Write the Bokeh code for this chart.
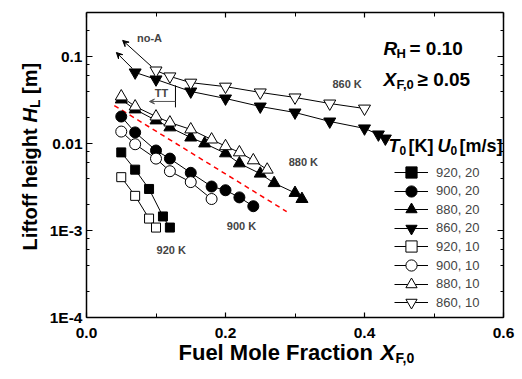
import math
from bokeh.plotting import figure
from bokeh.models import (Range1d, LinearAxis, LogAxis, FixedTicker,
                          CustomJSTickFormatter, Label, Arrow, VeeHead, Legend, LegendItem)
from bokeh.embed import file_html
from bokeh.resources import INLINE

FONT = "Liberation Sans"

# ---------------- data ----------------
x_920_20 = [0.05, 0.07, 0.09, 0.11, 0.12]
h_920_20 = [0.0079, 0.0050, 0.0030, 0.00145, 0.00108]
x_900_20 = [0.05, 0.07, 0.10, 0.12, 0.15, 0.18, 0.20, 0.22, 0.24]
h_900_20 = [0.0204, 0.0134, 0.0083, 0.0067, 0.0046, 0.0032, 0.0029, 0.0024, 0.0019]
x_880_20 = [0.05, 0.07, 0.10, 0.12, 0.15, 0.17, 0.20, 0.22, 0.25, 0.27, 0.30, 0.31]
h_880_20 = [0.032, 0.0246, 0.0184, 0.0153, 0.0117, 0.0100, 0.0077, 0.0059, 0.0045, 0.0035, 0.0027, 0.0023]
x_860_20 = [0.07, 0.10, 0.15, 0.20, 0.25, 0.30, 0.35, 0.40, 0.42, 0.43]
h_860_20 = [0.0655, 0.0545, 0.0396, 0.0329, 0.0266, 0.0227, 0.0179, 0.0149, 0.0127, 0.0114]
x_920_10 = [0.05, 0.07, 0.09, 0.10]
h_920_10 = [0.0041, 0.0025, 0.00137, 0.00108]
x_900_10 = [0.05, 0.07, 0.10, 0.12, 0.15, 0.18]
h_900_10 = [0.0137, 0.0098, 0.0067, 0.0048, 0.0036, 0.0023]
x_880_10 = [0.05, 0.07, 0.10, 0.12, 0.15, 0.18, 0.20, 0.22, 0.24, 0.26]
h_880_10 = [0.0347, 0.0266, 0.0204, 0.0174, 0.0145, 0.0111, 0.0093, 0.0079, 0.0064, 0.0050]
x_860_10 = [0.10, 0.12, 0.15, 0.20, 0.25, 0.30, 0.35, 0.40]
h_860_10 = [0.069, 0.059, 0.050, 0.045, 0.0386, 0.0338, 0.0288, 0.0252]

fit_x = [0.04, 0.288]
fit_h = [0.0273, 0.00165]

series_labels = ["920, 20", "900, 20", "880, 20", "860, 20",
                 "920, 10", "900, 10", "880, 10", "860, 10"]
x_ticks = [0.0, 0.2, 0.4, 0.6]
x_minor = [0.1, 0.3, 0.5]
x_lim = (0.0, 0.6)
y_lim = (1e-4, 0.32)

# temperature labels (x, H)
temp_labels = ["860 K", "880 K", "900 K", "920 K"]
temp_x = [0.375, 0.312, 0.223, 0.122]
temp_h = [0.0477, 0.00605, 0.00114, 0.00059]

# ---------------- layout geometry (page pixels) ----------------
OFF = 1                     # page offset of the canvas
W, H = 520, 377             # canvas = frame
BOX_L, BOX_R, BOX_T, BOX_B = 87, 504, 13, 318
PX_PER_X = (BOX_R - BOX_L) / (x_lim[1] - x_lim[0])
PX_PER_DEC = (BOX_B - BOX_T) / (math.log10(y_lim[1]) - math.log10(y_lim[0]))
x_lo = x_lim[0] - (BOX_L - OFF) / PX_PER_X
x_hi = x_lo + W / PX_PER_X
ylog_top = math.log10(y_lim[1]) + (BOX_T - OFF) / PX_PER_DEC
ylog_bot = ylog_top - H / PX_PER_DEC

p = figure(width=W, height=H, min_border=0, min_border_left=0, min_border_right=0,
           min_border_top=0, min_border_bottom=0,
           x_range=Range1d(x_lo, x_hi), y_range=Range1d(10 ** ylog_bot, 10 ** ylog_top),
           y_axis_type="log", x_axis_location=None, y_axis_location=None,
           output_backend="svg", toolbar_location=None, background_fill_color="white",
           border_fill_color="white")
p.grid.visible = False
p.outline_line_color = None

yfmt = CustomJSTickFormatter(code="""
const e = Math.round(Math.log10(tick));
if (e <= -3) { return "1E" + e; }
return Math.pow(10, e).toFixed(-e);
""")
xfmt = CustomJSTickFormatter(code="return tick.toFixed(1);")
blank = CustomJSTickFormatter(code="return '';")

def style_axis(ax, labels=True, major_in=6, minor_in=3):
    ax.axis_line_width = 1.5
    ax.axis_line_color = "black"
    ax.major_tick_in = major_in
    ax.major_tick_out = 0
    ax.minor_tick_in = minor_in
    ax.minor_tick_out = 0
    ax.major_tick_line_width = 1.2
    ax.minor_tick_line_width = 1
    if labels:
        ax.major_label_text_font = FONT
        ax.major_label_text_font_style = "bold"
        ax.major_label_text_font_size = "15.5px"
        ax.major_label_text_color = "black"
    else:
        ax.formatter = blank
        ax.major_label_text_font_size = "8px"
        ax.major_label_standoff = 0

bottom = LinearAxis(fixed_location=y_lim[0], bounds=x_lim,
                    ticker=FixedTicker(ticks=x_ticks, minor_ticks=x_minor), formatter=xfmt)
style_axis(bottom, True, 5, 4)
bottom.major_label_standoff = 10
p.add_layout(bottom, "below")

left = LogAxis(fixed_location=x_lim[0], bounds=y_lim, formatter=yfmt)
style_axis(left, True, 6, 3)
left.major_label_standoff = 4
p.add_layout(left, "left")

top = LinearAxis(fixed_location=y_lim[1], bounds=x_lim,
                 ticker=FixedTicker(ticks=x_ticks, minor_ticks=x_minor))
style_axis(top, False, 5, 4)
p.add_layout(top, "above")

right = LogAxis(fixed_location=x_lim[1], bounds=y_lim)
style_axis(right, False, 6, 3)
p.add_layout(right, "right")

# ---------------- series ----------------
specs = [
    (x_920_20, h_920_20, "square", "black", 9),
    (x_900_20, h_900_20, "circle", "black", 11),
    (x_880_20, h_880_20, "triangle", "black", 12),
    (x_860_20, h_860_20, "inverted_triangle", "black", 12),
    (x_920_10, h_920_10, "square", "white", 9),
    (x_900_10, h_900_10, "circle", "white", 11),
    (x_880_10, h_880_10, "triangle", "white", 12),
    (x_860_10, h_860_10, "inverted_triangle", "white", 12),
]
line_rs = []
for xs, hs, m, fill, size in specs:
    line_rs.append(p.line(xs, hs, line_color="black", line_width=1))
p.line(fit_x, fit_h, line_color="red", line_width=1.5, line_dash="5 4")

# screen-coordinate helpers (page pixels -> frame pixels, y up)
def sx(xp):
    return xp - OFF
def sy(yp):
    return OFF + H - yp

LEG_TOP_CENTER = 173
LEG_PITCH = 18.6
for i, ((xs, hs, m, fill, size), lr, lab) in enumerate(zip(specs, line_rs, series_labels)):
    sr = p.scatter(xs, hs, marker=m, size=size, fill_color=fill, line_color="black", line_width=1)
    yc = LEG_TOP_CENTER + i * LEG_PITCH
    leg = Legend(items=[LegendItem(label=lab, renderers=[lr, sr])],
                 location=(sx(395), sy(yc + 14)), orientation="vertical",
                 glyph_width=34, glyph_height=28, label_height=28, spacing=0,
                 padding=0, margin=0, label_standoff=8,
                 label_text_font=FONT, label_text_font_size="13px",
                 border_line_color=None, background_fill_alpha=0)
    p.add_layout(leg, "center")

# ---------------- annotations ----------------
for t, xv, hv in zip(temp_labels, temp_x, temp_h):
    p.add_layout(Label(x=xv, y=hv, text=t, text_align="center", text_baseline="middle",
                       text_font=FONT, text_font_size="11px", text_font_style="bold"))

p.add_layout(Label(x=0.0906, y=0.161, text="no-A", text_align="center", text_baseline="middle",
                   text_font=FONT, text_font_size="11px", text_font_style="bold"))
p.add_layout(Label(x=0.108, y=0.0376, text="TT", text_align="center", text_baseline="middle",
                   text_font=FONT, text_font_size="11px", text_font_style="bold"))
p.add_layout(Arrow(x_start=0.0935, y_start=0.0767, x_end=0.052, y_end=0.153,
                   line_width=1, end=VeeHead(size=6, line_width=1)))
p.add_layout(Arrow(x_start=0.066, y_start=0.0728, x_end=0.043, y_end=0.111,
                   line_width=1, end=VeeHead(size=6, line_width=1)))
p.add_layout(Arrow(x_start=0.128, y_start=0.0465, x_end=0.128, y_end=0.026,
                   line_width=1, end=None))
p.add_layout(Arrow(x_start=0.128, y_start=0.0304, x_end=0.0906, y_end=0.0304,
                   line_width=1, line_color="#555555",
                   end=VeeHead(size=5, line_width=1, line_color="#555555", fill_color="#555555")))

def txt(x, y, s, size, style="bold", angle=0.0):
    p.add_layout(Label(x=x, y=y, x_units="screen", y_units="screen", text=s,
                       text_font=FONT, text_font_size=size, text_font_style=style,
                       text_align="left", text_baseline="middle", angle=angle,
                       text_color="black"))

# R_H = 0.10
txt(sx(384), sy(49), "R", "19px", "bold italic")
txt(sx(397), sy(54), "H", "13px", "bold")
txt(sx(410), sy(49), "= 0.10", "19px", "bold")
# X_F,0 >= 0.05
txt(sx(384), sy(80), "X", "19px", "bold italic")
txt(sx(397), sy(85), "F,0", "13px", "bold")
txt(sx(418), sy(80), "\u2265 0.05", "19px", "bold")
# legend title
txt(sx(389), sy(146), "T", "18px", "bold italic")
txt(sx(400), sy(151), "0", "12px", "bold")
txt(sx(409), sy(146), "[K]", "18px", "bold")
txt(sx(438), sy(146), "U", "18px", "bold italic")
txt(sx(451), sy(151), "0", "12px", "bold")
txt(sx(460), sy(146), "[m/s]", "18px", "bold")

# x-axis title
txt(sx(179), sy(352.5), "Fuel Mole Fraction", "22px", "bold")
txt(sx(381), sy(352.5), "X", "22px", "bold italic")
txt(sx(396), sy(358), "F,0", "14px", "bold")
# y-axis title (rotated)
A = math.pi / 2
txt(sx(30), sy(251), "Liftoff height", "20px", "bold", A)
txt(sx(30), sy(123), "H", "20px", "bold italic", A)
txt(sx(35), sy(108.5), "L", "14px", "bold", A)
txt(sx(30), sy(94.5), "[m]", "20px", "bold", A)

open("out.html", "w").write(file_html(p, INLINE))
